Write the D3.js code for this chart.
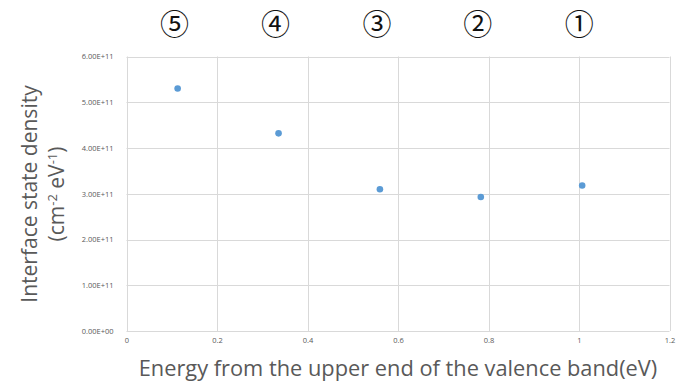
<!DOCTYPE html>
<html><head><meta charset="utf-8">
<script src="https://cdn.jsdelivr.net/npm/d3@7"></script>
<style>html,body{margin:0;padding:0;background:#fff;}</style>
</head><body>
<svg id="c" width="688" height="385"></svg>
<script>
const energies = [0.113, 0.336, 0.560, 0.783, 1.007];
const densities = [5.30e11, 4.32e11, 3.10e11, 2.93e11, 3.18e11];
const markers = ["⑤", "④", "③", "②", "①"];
const xTicks = [0, 0.2, 0.4, 0.6, 0.8, 1, 1.2];
const yTicks = [0, 1e11, 2e11, 3e11, 4e11, 5e11, 6e11];
const xTitle = "Energy from the upper end of the valence band(eV)";
const yTitle1 = "Interface state density";

const svg = d3.select("#c");
const x = d3.scaleLinear().domain([0, 1.2]).range([126.5, 669.5]);
const y = d3.scaleLinear().domain([0, 6e11]).range([331, 56.5]);
const grid = "#d9d9d9", txt = "#595959";
const font = "'Open Sans', 'Noto Sans', sans-serif";

// gridlines
svg.append("g").selectAll("line.h").data(yTicks).join("line")
  .attr("x1", x(0)).attr("x2", x(1.2))
  .attr("y1", d => Math.round(y(d)) + 0.5).attr("y2", d => Math.round(y(d)) + 0.5)
  .attr("stroke", grid).attr("stroke-width", 1);
svg.append("g").selectAll("line.v").data(xTicks).join("line")
  .attr("x1", d => Math.round(x(d)) + 0.5).attr("x2", d => Math.round(x(d)) + 0.5)
  .attr("y1", y(6e11)).attr("y2", y(0))
  .attr("stroke", grid).attr("stroke-width", 1);

// axes (labels only)
const fmt = d => d === 0 ? "0.00E+00" : (d / 1e11).toFixed(2) + "E+11";
const yAxis = d3.axisLeft(y).tickValues(yTicks).tickFormat(fmt).tickSize(0).tickPadding(13);
const gy = svg.append("g").attr("transform", `translate(${x(0)},0)`).call(yAxis);
gy.select(".domain").remove();
gy.selectAll("text").attr("fill", txt).style("font-family", font).style("font-size", "7.5px");

const xAxis = d3.axisBottom(x).tickValues(xTicks).tickFormat(d => String(d)).tickSize(0).tickPadding(7);
const gx = svg.append("g").attr("transform", `translate(0,${y(0)})`).call(xAxis);
gx.select(".domain").remove();
gx.selectAll("text").attr("fill", txt).style("font-family", font).style("font-size", "7.5px");

// points
svg.append("g").selectAll("circle").data(energies).join("circle")
  .attr("cx", d => x(d)).attr("cy", (d, i) => y(densities[i]))
  .attr("r", 3.3).attr("fill", "#5b9bd5");

// circled markers
svg.append("g").selectAll("text").data(markers).join("text")
  .attr("x", (d, i) => x(energies[i]) - 3).attr("y", 35)
  .attr("text-anchor", "middle")
  .style("font-family", "'Noto Sans CJK JP', 'DejaVu Sans', sans-serif").style("font-size", "29px")
  .attr("fill", "#111").text(d => d);

// axis titles
svg.append("text").attr("x", 398).attr("y", 376).attr("text-anchor", "middle")
  .style("font-family", font).style("font-size", "21.8px").attr("fill", txt).text(xTitle);

const yt = svg.append("g").attr("transform", "translate(0,194) rotate(-90)");
yt.append("text").attr("x", 0).attr("y", 37).attr("text-anchor", "middle")
  .style("font-family", font).style("font-size", "21px").attr("fill", txt).text(yTitle1);
const t2 = yt.append("text").attr("x", 0).attr("y", 64).attr("text-anchor", "middle")
  .style("font-family", font).style("font-size", "21px").attr("fill", txt);
t2.append("tspan").text("(cm");
t2.append("tspan").attr("dy", -7).style("font-size", "13px").text("-2");
t2.append("tspan").attr("dy", 7).text(" eV");
t2.append("tspan").attr("dy", -7).style("font-size", "13px").text("-1");
t2.append("tspan").attr("dy", 7).text(")");
</script>
</body></html>
